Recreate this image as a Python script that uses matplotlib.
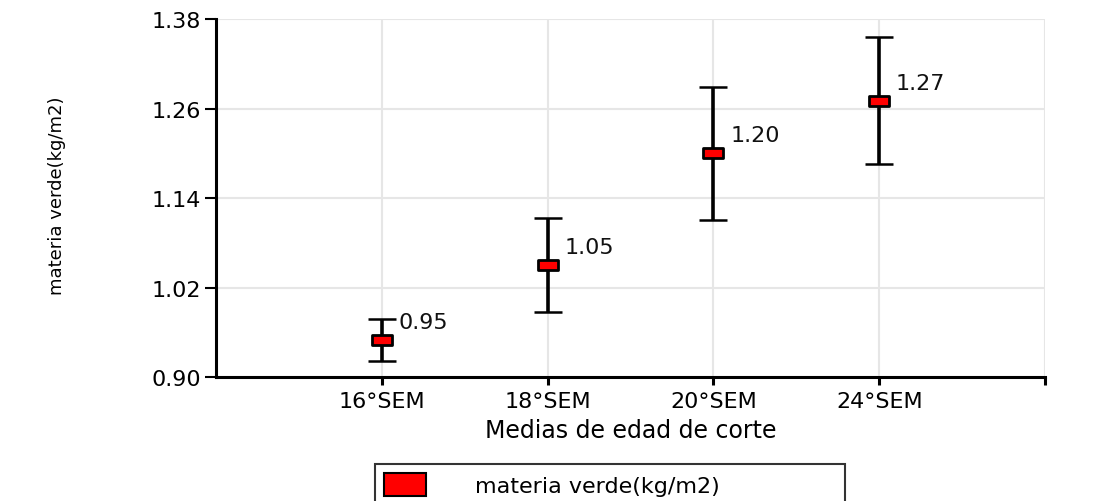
import matplotlib.pyplot as plt
from matplotlib.patches import Patch
from matplotlib.path import Path

plt.rcParams['font.family'] = ['DejaVu Sans']

# datos
categorias = ['16°SEM', '18°SEM', '20°SEM', '24°SEM']
medias = [0.95, 1.05, 1.20, 1.27]
err_inf = [0.028, 0.063, 0.089, 0.084]
err_sup = [0.028, 0.063, 0.089, 0.086]
etiquetas = ['0.95', '1.05', '1.20', '1.27']
yticks = [0.90, 1.02, 1.14, 1.26, 1.38]

fig = plt.figure(figsize=(10.97, 5.02), dpi=100)
ax = fig.add_axes([0.1969, 0.247, 0.7557, 0.713])

x = list(range(1, len(categorias) + 1))

# marcador rectangular (mas ancho que alto)
rect = Path([(-1, -0.5), (1, -0.5), (1, 0.5), (-1, 0.5), (-1, -0.5)],
            [Path.MOVETO, Path.LINETO, Path.LINETO, Path.LINETO, Path.CLOSEPOLY])

ax.errorbar(x, medias, yerr=[err_inf, err_sup], fmt='none', ecolor='black',
            elinewidth=2.6, capsize=10, capthick=1.8, zorder=3)
ax.plot(x, medias, linestyle='none', marker=rect, markersize=14,
        markerfacecolor='red', markeredgecolor='black', markeredgewidth=2, zorder=4)

for xi, yi, t in zip(x, medias, etiquetas):
    ax.annotate(t, (xi, yi), xytext=(12, 13), textcoords='offset points',
                fontsize=16, ha='left', va='center', color='#111111')

ax.set_xlim(0, 5)
ax.set_ylim(0.90, 1.38)
ax.set_xticks(x + [5])
ax.set_xticklabels(categorias + [''], fontsize=16)
ax.set_yticks(yticks)
ax.set_yticklabels(['%.2f' % v for v in yticks], fontsize=16)

ax.grid(True, color='#e6e6e6', linewidth=1.5, zorder=0)
ax.set_axisbelow(True)
for s in ['top', 'right']:
    ax.spines[s].set_visible(False)
for s in ['left', 'bottom']:
    ax.spines[s].set_linewidth(2.2)
ax.tick_params(axis='y', length=8, width=1.5, pad=3)
ax.tick_params(axis='x', length=6, width=2.2, pad=4)

ax.set_xlabel('Medias de edad de corte', fontsize=17, labelpad=5)
fig.text(0.052, 0.61, 'materia verde(kg/m2)', rotation=90, fontsize=13,
         ha='center', va='center')

handle = Patch(facecolor='red', edgecolor='black', linewidth=1.5)
leg = fig.legend([handle], ['materia verde(kg/m2)'], loc='upper left',
                 bbox_to_anchor=(0.3418, -0.2, 0.4285, 0.2737), mode='expand',
                 fontsize=16, handlelength=1.9, handleheight=1.2,
                 handletextpad=2.2, fancybox=False, borderpad=0.4,
                 borderaxespad=0)
leg.get_frame().set_edgecolor('black')
leg.get_frame().set_linewidth(1.5)

fig.savefig('out.png', dpi=100)
